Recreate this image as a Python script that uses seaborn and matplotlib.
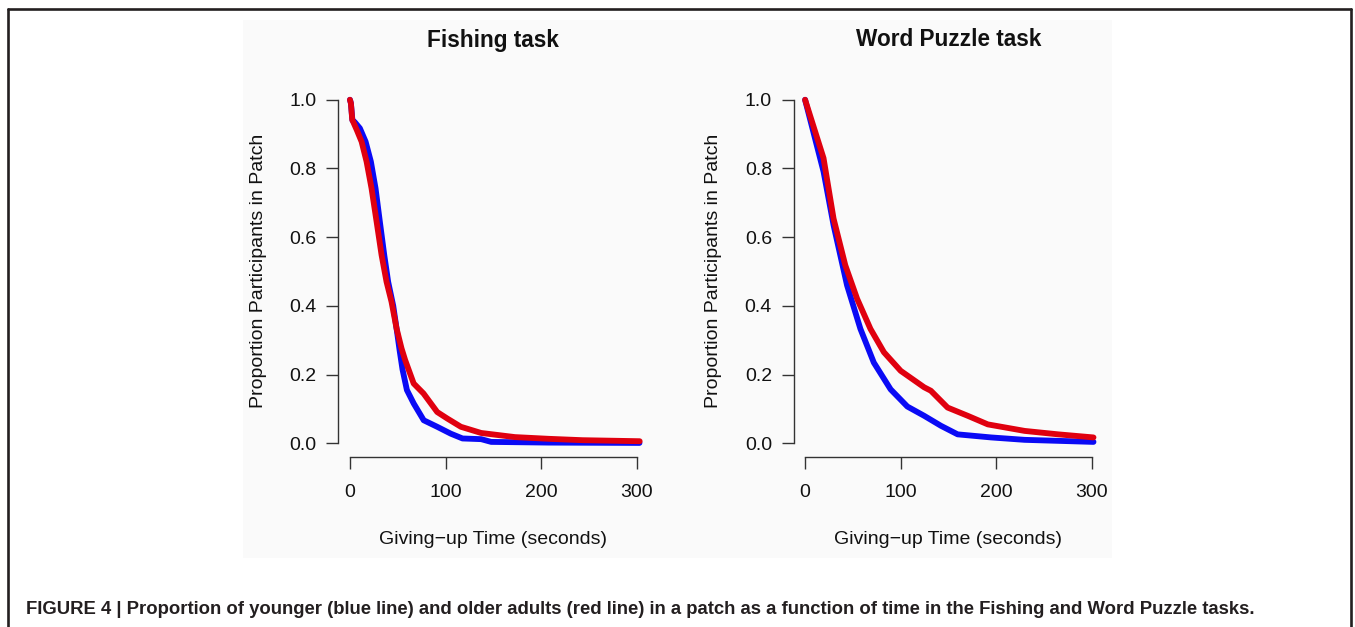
import pandas as pd
import matplotlib.pyplot as plt
import seaborn as sns
from matplotlib.lines import Line2D
from matplotlib.patches import Rectangle

# values (survival curves, time in seconds)
fish_young_t = [0, 1, 2.6, 5, 10.4, 16.4, 21.9, 26.8, 31.3, 35.9, 40, 45.3, 49, 52, 55, 59.6,
                66.7, 77.2, 91.3, 105.5, 117.8, 137.3, 147.8, 207.9, 303]
fish_young_p = [1.0, 0.99, 0.94, 0.935, 0.917, 0.878, 0.82, 0.742, 0.645, 0.548, 0.47, 0.40,
                0.33, 0.27, 0.215, 0.155, 0.116, 0.067, 0.048, 0.028, 0.014, 0.012, 0.004,
                0.002, 0.001]
fish_old_t = [0, 1, 2.4, 7, 12.2, 17.4, 22.6, 27.9, 33.1, 38.3, 43.5, 48.8, 54, 57.8, 66.7, 77.0,
              91.3, 101.9, 116.1, 137.3, 172.6, 207.9, 243.2, 303.2]
fish_old_p = [1.0, 0.99, 0.942, 0.913, 0.878, 0.82, 0.742, 0.645, 0.548, 0.47, 0.412, 0.334,
              0.276, 0.242, 0.174, 0.145, 0.091, 0.072, 0.048, 0.030, 0.018, 0.013, 0.009, 0.006]

word_young_t = [0, 19.3, 29.8, 43.9, 57.9, 71.9, 89.5, 107, 124.6, 142.1, 159.6, 194.7, 229.8, 301.8]
word_young_p = [1.0, 0.791, 0.635, 0.46, 0.333, 0.235, 0.157, 0.107, 0.08, 0.051, 0.026, 0.017,
                0.010, 0.004]
word_old_t = [0, 19.3, 29.8, 42.1, 54.4, 68.4, 82.5, 100, 124.6, 131.6, 149.1, 170.2, 191.2,
              229.8, 264.9, 301.8]
word_old_p = [1.0, 0.83, 0.654, 0.518, 0.421, 0.333, 0.265, 0.211, 0.163, 0.153, 0.104, 0.08,
              0.055, 0.036, 0.026, 0.017]

tasks = ["Fishing task", "Word Puzzle task"]
groups = ["younger", "older"]
x_ticks = [0, 100, 200, 300]
y_ticks = [0.0, 0.2, 0.4, 0.6, 0.8, 1.0]
caption = ("FIGURE 4 | Proportion of younger (blue line) and older adults (red line) in a patch "
           "as a function of time in the Fishing and Word Puzzle tasks.")

rows = []
for task, grp, ts, ps in [
    (tasks[0], "younger", fish_young_t, fish_young_p),
    (tasks[0], "older", fish_old_t, fish_old_p),
    (tasks[1], "younger", word_young_t, word_young_p),
    (tasks[1], "older", word_old_t, word_old_p),
]:
    for t, p in zip(ts, ps):
        rows.append({"task": task, "group": grp, "time": t, "prop": p})
df = pd.DataFrame(rows)

sns.set_style("white")
plt.rcParams["font.family"] = ["Liberation Sans", "DejaVu Sans"]

fig = plt.figure(figsize=(13.55, 6.27), dpi=100)
fig.patch.set_facecolor("white")

# faint grey backing of the embedded figure
fig.patches.append(Rectangle((0.1793, 0.110), 0.6413, 0.858, transform=fig.transFigure,
                             facecolor="#fafafa", edgecolor="none", zorder=-5))

# page frame (open at the bottom)
frame = dict(color="#231f20", linewidth=1.9, transform=fig.transFigure)
fig.lines.append(Line2D([0.0059, 0.997], [0.9856, 0.9856], **frame))
fig.lines.append(Line2D([0.0059, 0.0059], [0.0, 0.9856], **frame))
fig.lines.append(Line2D([0.997, 0.997], [0.0, 0.9856], **frame))

palette = {"younger": "#0a0af5", "older": "#e0000f"}
lefts = [0.2498, 0.5857]
for task, left in zip(tasks, lefts):
    ax = fig.add_axes([left, 0.2711, 0.2285, 0.5917])
    ax.set_facecolor("none")
    sns.lineplot(data=df[df.task == task], x="time", y="prop", hue="group", hue_order=groups,
                 palette=palette, linewidth=4.2, estimator=None, legend=False, ax=ax,
                 solid_capstyle="round", solid_joinstyle="round")
    ax.set_xlim(-12, 312)
    ax.set_ylim(-0.04, 1.04)
    ax.set_xticks(x_ticks)
    ax.set_yticks(y_ticks)
    ax.set_xticklabels([str(v) for v in x_ticks])
    ax.set_yticklabels([f"{v:.1f}" for v in y_ticks])
    for s in ["top", "right"]:
        ax.spines[s].set_visible(False)
    ax.spines["bottom"].set_bounds(0, 300)
    ax.spines["left"].set_bounds(0, 1)
    for s in ["bottom", "left"]:
        ax.spines[s].set_color("#333333")
        ax.spines[s].set_linewidth(1.0)
    ax.tick_params(axis="x", direction="out", length=8.6, width=1.0, color="#333333",
                   pad=11, labelsize=14, labelcolor="#111111", bottom=True)
    ax.tick_params(axis="y", direction="out", length=8.6, width=1.0, color="#333333",
                   pad=7, labelsize=14, labelcolor="#111111", left=True)
    ax.set_xlabel("")
    ax.set_ylabel("")

    cx = left + 0.2285 / 2
    fig.text(cx, 1 - 40 / 627, task, ha="center", va="center", fontsize=16.3,
             fontweight="bold", color="#111111")
    fig.text(cx, 1 - 540 / 627, "Giving\u2212up Time (seconds)", ha="center", va="center",
             fontsize=14, color="#111111")
    fig.text(left - 80 / 1355, 1 - 271 / 627, "Proportion Participants in Patch", ha="center",
             va="center", rotation=90, fontsize=14, color="#111111")

fig.text(26 / 1355, 1 - 614 / 627, caption, ha="left", va="baseline", fontsize=13.3,
         fontweight="bold", color="#231f20")

fig.savefig("out.png", dpi=100)
